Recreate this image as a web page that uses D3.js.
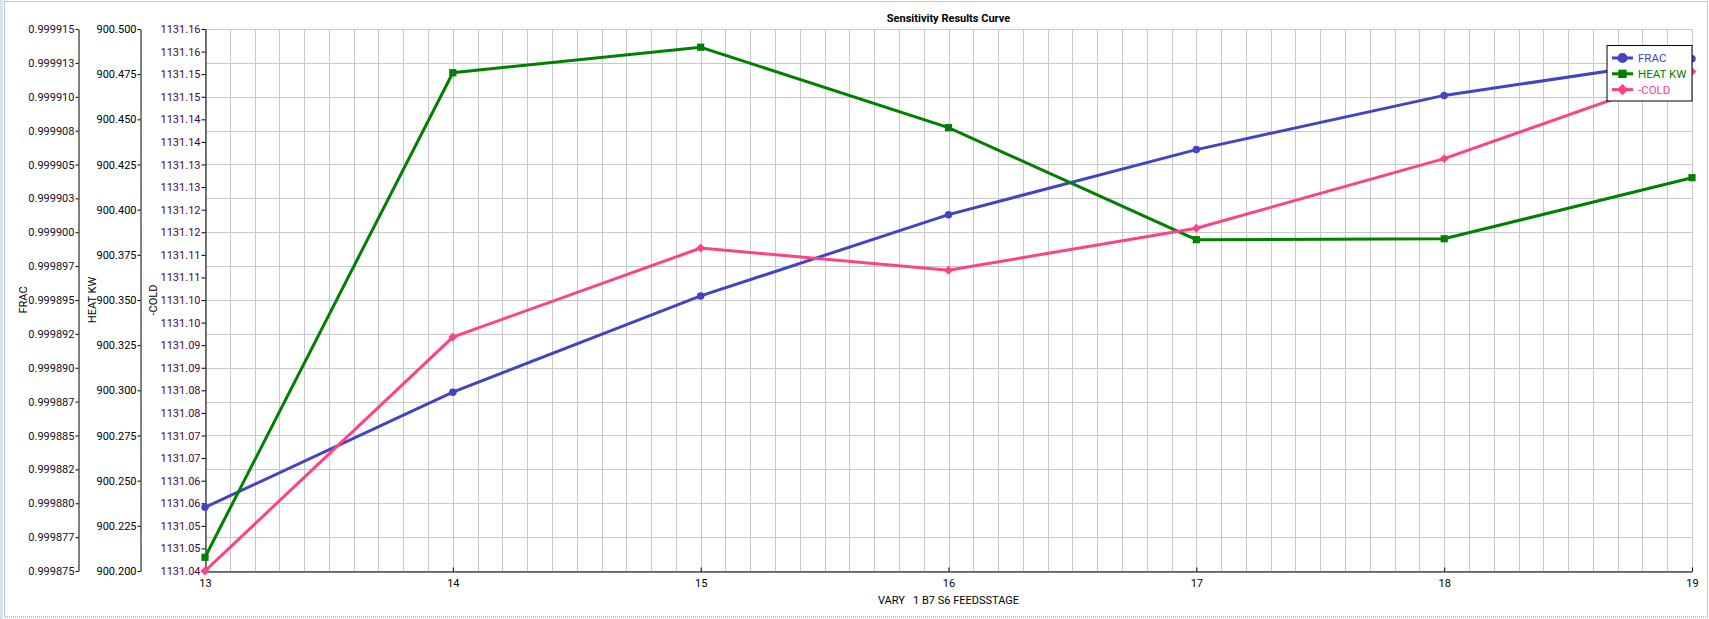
<!DOCTYPE html>
<html>
<head>
<meta charset="utf-8">
<script src="https://cdn.jsdelivr.net/npm/d3@7"></script>
<style>
body { margin: 0; background: #ffffff; }
text { font-family: Roboto, "Liberation Sans", sans-serif; }
</style>
</head>
<body>
<div id="chart"></div>
<script>
// values
const feed_stage = [13, 14, 15, 16, 17, 18, 19];
const frac_values = [0.9998797, 0.9998882, 0.9998953, 0.9999013, 0.9999061, 0.9999101, 0.9999128];
const heat_values = [900.2076, 900.4758, 900.4899, 900.4454, 900.3834, 900.3839, 900.4177];
const cold_values = [1131.0400, 1131.0918, 1131.1115, 1131.1066, 1131.1159, 1131.1313, 1131.1506];

const frac_ticks = [0.999875, 0.9998775, 0.99988, 0.9998825, 0.999885, 0.9998875, 0.99989, 0.9998925,
    0.999895, 0.9998975, 0.9999, 0.9999025, 0.999905, 0.9999075, 0.99991, 0.9999125, 0.999915];
const frac_labels = ["0.999875", "0.999877", "0.999880", "0.999882", "0.999885", "0.999887", "0.999890", "0.999892",
    "0.999895", "0.999897", "0.999900", "0.999903", "0.999905", "0.999908", "0.999910", "0.999913", "0.999915"];
const heat_ticks = [900.2, 900.225, 900.25, 900.275, 900.3, 900.325, 900.35, 900.375, 900.4, 900.425, 900.45, 900.475, 900.5];
const heat_labels = ["900.200", "900.225", "900.250", "900.275", "900.300", "900.325", "900.350", "900.375",
    "900.400", "900.425", "900.450", "900.475", "900.500"];
const cold_ticks = [1131.04, 1131.045, 1131.05, 1131.055, 1131.06, 1131.065, 1131.07, 1131.075, 1131.08, 1131.085,
    1131.09, 1131.095, 1131.1, 1131.105, 1131.11, 1131.115, 1131.12, 1131.125, 1131.13, 1131.135,
    1131.14, 1131.145, 1131.15, 1131.155, 1131.16];
const cold_labels = ["1131.04", "1131.05", "1131.05", "1131.06", "1131.06", "1131.07", "1131.07", "1131.08", "1131.08", "1131.09",
    "1131.09", "1131.10", "1131.10", "1131.11", "1131.11", "1131.12", "1131.12", "1131.13", "1131.13", "1131.14",
    "1131.14", "1131.15", "1131.15", "1131.16", "1131.16"];
const x_ticks = [13, 14, 15, 16, 17, 18, 19];

const series_names = ["FRAC", "HEAT KW", "-COLD"];
const series_colors = ["#4343c4", "#008000", "#ff4283"];

const WIDTH = 1709, HEIGHT = 619;
const plot_left = 205, plot_right = 1692, plot_top = 29, plot_bottom = 571;

const svg = d3.select("#chart")
    .append("svg")
    .attr("width", WIDTH)
    .attr("height", HEIGHT);

// window frame
svg.append("rect").attr("x", 0).attr("y", 0).attr("width", 3).attr("height", HEIGHT).attr("fill", "#d8e2ec");
svg.append("rect")
    .attr("x", 4.5).attr("y", 1.5)
    .attr("width", WIDTH - 6).attr("height", HEIGHT - 3.5)
    .attr("fill", "none")
    .attr("stroke", "#8a8a8a")
    .attr("stroke-dasharray", "1,1");

const x = d3.scaleLinear().domain([13, 19]).range([plot_left, plot_right]);
const y_frac = d3.scaleLinear().domain([0.999875, 0.999915]).range([plot_bottom, plot_top]);
const y_heat = d3.scaleLinear().domain([900.2, 900.5]).range([plot_bottom, plot_top]);
const y_cold = d3.scaleLinear().domain([1131.04, 1131.16]).range([plot_bottom, plot_top]);
const y_scales = [y_frac, y_heat, y_cold];
const series_values = [frac_values, heat_values, cold_values];

// grid
const grid = svg.append("g").attr("stroke", "#c8c8c8").attr("stroke-width", 1);
grid.selectAll(".vg")
    .data(x.ticks(60))
    .join("line")
    .attr("x1", d => Math.round(x(d)) + 0.5)
    .attr("x2", d => Math.round(x(d)) + 0.5)
    .attr("y1", plot_top)
    .attr("y2", plot_bottom);
grid.selectAll(".hg")
    .data(frac_ticks)
    .join("line")
    .attr("x1", plot_left)
    .attr("x2", plot_right)
    .attr("y1", d => Math.round(y_frac(d)) + 0.5)
    .attr("y2", d => Math.round(y_frac(d)) + 0.5);

// y axes
function styleAxis(g, color) {
    g.attr("font-family", null).attr("font-size", 11);
    g.select(".domain").attr("stroke", "#000");
    g.selectAll(".tick line").attr("stroke", "#000");
    g.selectAll(".tick text").attr("fill", color);
}

svg.append("g")
    .attr("transform", "translate(78.5,0)")
    .call(d3.axisLeft(y_frac).tickValues(frac_ticks).tickFormat((d, i) => frac_labels[i])
        .tickSizeInner(3).tickSizeOuter(0).tickPadding(1))
    .call(g => styleAxis(g, "#101020"));

svg.append("g")
    .attr("transform", "translate(140.5,0)")
    .call(d3.axisLeft(y_heat).tickValues(heat_ticks).tickFormat((d, i) => heat_labels[i])
        .tickSizeInner(3).tickSizeOuter(0).tickPadding(1))
    .call(g => styleAxis(g, "#000"));

svg.append("g")
    .attr("transform", "translate(205.5,0)")
    .call(d3.axisLeft(y_cold).tickValues(cold_ticks).tickFormat((d, i) => cold_labels[i])
        .tickSizeInner(4).tickSizeOuter(0).tickPadding(1))
    .call(g => styleAxis(g, "#3e0a40"));

// x axis
svg.append("g")
    .attr("transform", `translate(0,${plot_bottom + 0.5})`)
    .call(d3.axisBottom(x).tickValues(x_ticks).tickFormat(d3.format("d"))
        .tickSizeInner(-4).tickSizeOuter(0).tickPadding(8))
    .call(g => styleAxis(g, "#000"));

// axis titles
const axis_title_x = [23, 92, 153];
series_names.forEach((name, i) => {
    svg.append("text")
        .attr("transform", `translate(${axis_title_x[i]},${(plot_top + plot_bottom) / 2}) rotate(-90)`)
        .attr("dy", "0.35em")
        .attr("text-anchor", "middle")
        .attr("font-size", 11)
        .attr("fill", "#000")
        .text(name);
});

svg.append("text")
    .attr("x", (plot_left + plot_right) / 2)
    .attr("y", 604)
    .attr("text-anchor", "middle")
    .attr("font-size", 11)
    .style("white-space", "pre")
    .attr("fill", "#000")
    .text("VARY   1 B7 S6 FEEDSSTAGE");

svg.append("text")
    .attr("x", (plot_left + plot_right) / 2)
    .attr("y", 22)
    .attr("text-anchor", "middle")
    .attr("font-size", 11)
    .attr("font-weight", "bold")
    .attr("fill", "#000")
    .text("Sensitivity Results Curve");

// markers: circle, square, diamond (square turned 45deg)
const symbols = [d3.symbolCircle, d3.symbolSquare, d3.symbolSquare];
const symbol_turn = [0, 0, 45];
const symbol_sizes = [44, 52, 40];
const legend_sizes = [80, 70, 64];

series_values.forEach((vals, s) => {
    const pts = feed_stage.map((d, i) => [x(d), y_scales[s](vals[i])]);
    svg.append("path")
        .datum(pts)
        .attr("fill", "none")
        .attr("stroke", series_colors[s])
        .attr("stroke-width", 3)
        .attr("d", d3.line());
    svg.append("g").selectAll("path")
        .data(pts)
        .join("path")
        .attr("transform", d => `translate(${d[0]},${d[1]}) rotate(${symbol_turn[s]})`)
        .attr("d", d3.symbol().type(symbols[s]).size(symbol_sizes[s]))
        .attr("fill", series_colors[s]);
});

// legend
const legend = svg.append("g").attr("transform", "translate(1607,45.5)");
legend.append("rect")
    .attr("width", 85).attr("height", 55.5)
    .attr("fill", "#fff")
    .attr("stroke", "#000")
    .attr("stroke-width", 1);
series_names.forEach((name, i) => {
    const ly = 12.5 + i * 15.8;
    legend.append("line")
        .attr("x1", 5).attr("x2", 26)
        .attr("y1", ly).attr("y2", ly)
        .attr("stroke", series_colors[i])
        .attr("stroke-width", 3);
    legend.append("path")
        .attr("transform", `translate(15.5,${ly}) rotate(${symbol_turn[i]})`)
        .attr("d", d3.symbol().type(symbols[i]).size(legend_sizes[i]))
        .attr("fill", series_colors[i]);
    legend.append("text")
        .attr("x", 31)
        .attr("y", ly)
        .attr("dy", "0.35em")
        .attr("font-size", 11.5)
        .attr("fill", series_colors[i])
        .text(name);
});
</script>
</body>
</html>
